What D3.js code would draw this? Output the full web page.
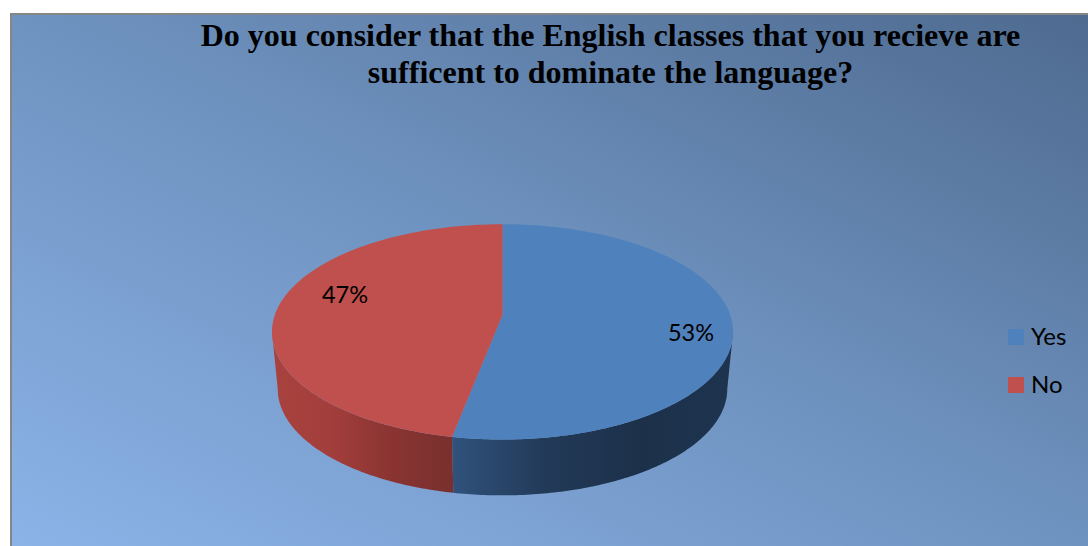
<!DOCTYPE html>
<html><head><meta charset="utf-8">
<script src="https://cdn.jsdelivr.net/npm/d3@7"></script>
<style>html,body{margin:0;padding:0;background:#fff}svg{display:block}</style>
</head><body><svg id="c" width="1088" height="546"></svg>
<script>
const categories = ["Yes","No"];
const values = [53,47];
const titleLines = ["Do you consider that the English classes that you recieve are","sufficent to dominate the language?"];
const topColors = ["#4f81bd","#c0504d"];
const wallStops = [["#30527c","#223a58","#1c3049","#1e344f"],["#a8423f","#a23e3b","#8a3432","#78302e"]];

const svg = d3.select("#c"), defs = svg.append("defs");
const bg = defs.append("linearGradient").attr("id","bg")
  .attr("x1",0).attr("y1",1).attr("x2",1).attr("y2",0);
[[0,"#8cb3e8"],[.5,"#6f93c0"],[1,"#4e6a8f"]].forEach(s=>bg.append("stop").attr("offset",s[0]).attr("stop-color",s[1]));
svg.append("rect").attr("x",11).attr("y",14).attr("width",1078).attr("height",533).attr("fill","url(#bg)").attr("stroke","#868686").attr("stroke-width",2);

const cx=502.5, cy=315, R=227.7, Ry=105, p=0.157;
const project=a=>{const u=Math.sin(a),v=-Math.cos(a),s=1/(1-p*v);return [cx+R*u*s,cy+Ry*v*s];};
const projectBase=a=>{const u=Math.sin(a),v=-Math.cos(a),s=1/(1-p*v);return [cx+R*0.975*u*s,cy+57+104*v*s];};
const arcs=d3.pie().sort(null).startAngle(0).endAngle(2*Math.PI)(values);
const line=d3.line();
const sample=(a0,a1)=>d3.range(0,121).map(i=>a0+(a1-a0)*i/120);
const side=Math.acos(-p);

arcs.forEach((d,i)=>{
  const a0=Math.max(d.startAngle,side), a1=Math.min(d.endAngle,2*Math.PI-side);
  if(a1<=a0) return;
  const top=sample(a0,a1).map(project), bot=sample(a1,a0).map(projectBase);
  const xs=top.map(q=>q[0]), id="wall"+i;
  const g=defs.append("linearGradient").attr("id",id).attr("gradientUnits","userSpaceOnUse")
    .attr("x1",d3.min(xs)).attr("x2",d3.max(xs)).attr("y1",0).attr("y2",0);
  const st=wallStops[i];
  st.forEach((c,j)=>g.append("stop").attr("offset",j/(st.length-1)).attr("stop-color",c));
  svg.append("path").attr("d",line(top.concat(bot))+"Z").attr("fill",`url(#${id})`);
});
arcs.forEach((d,i)=>{
  const pts=sample(d.startAngle,d.endAngle).map(project);
  svg.append("path").attr("d",line([[cx,cy],...pts])+"Z").attr("fill",topColors[i]);
});
const labelPos=[[691,333],[345,295]];
arcs.forEach((d,i)=>{
  svg.append("text").attr("x",labelPos[i][0]).attr("y",labelPos[i][1]).attr("dy","0.35em").attr("text-anchor","middle")
   .attr("font-family","Lato").attr("font-size",23.5).attr("fill","#000").text(Math.round(d.value)+"%");
});
const legY=[337,385];
categories.forEach((c,i)=>{
  svg.append("rect").attr("x",1008).attr("y",legY[i]-8).attr("width",16).attr("height",16).attr("fill",topColors[i]);
  svg.append("text").attr("x",1031).attr("y",legY[i]).attr("dy","0.35em").attr("font-family","Lato").attr("font-size",24).attr("fill","#000").text(c);
});
titleLines.forEach((t,i)=>{
  svg.append("text").attr("x",610.5).attr("y",46+i*37).attr("text-anchor","middle").attr("font-family","Liberation Serif").attr("font-weight","bold").attr("font-size",32).attr("fill","#000").text(t);
});
</script></body></html>
